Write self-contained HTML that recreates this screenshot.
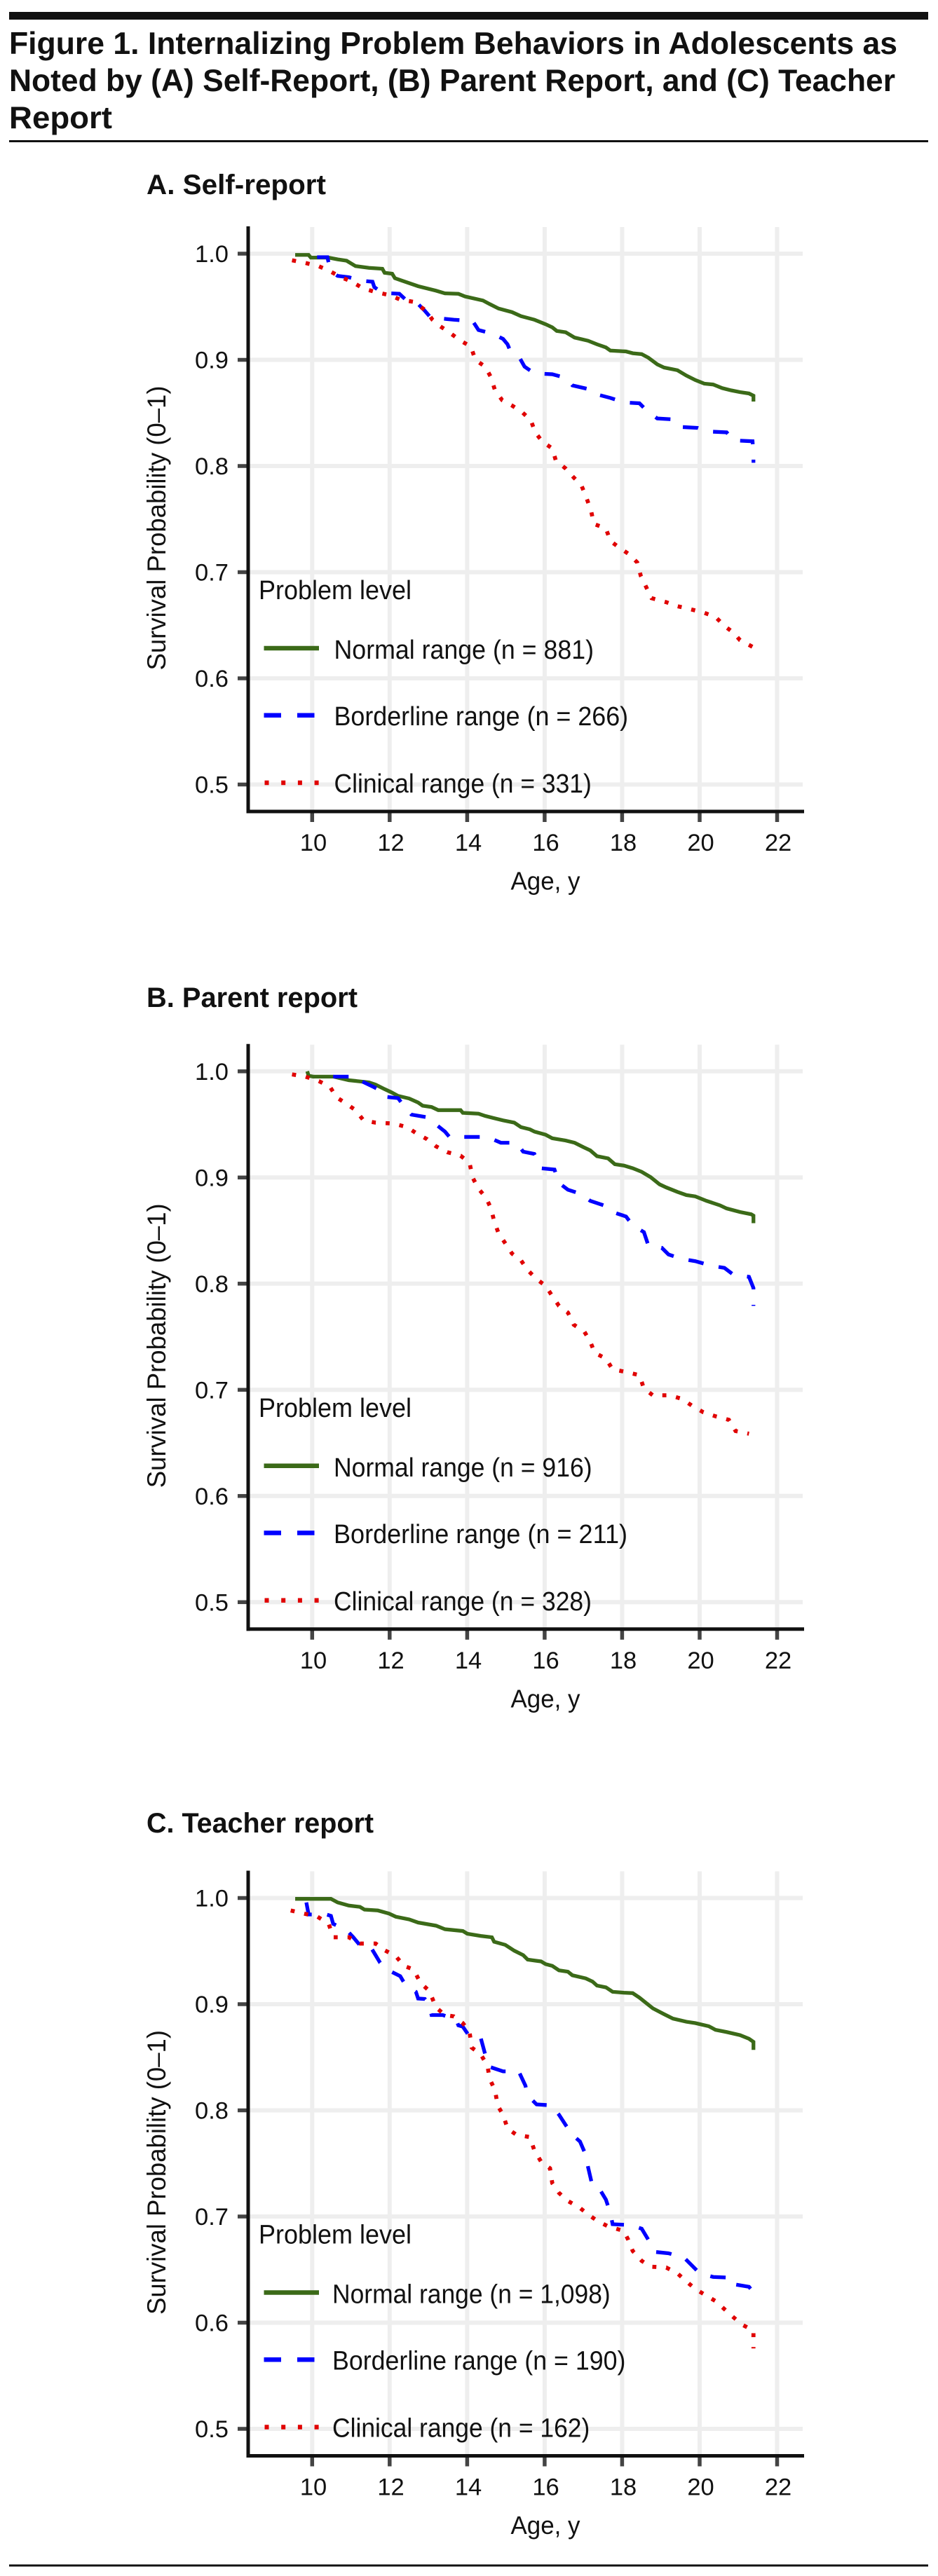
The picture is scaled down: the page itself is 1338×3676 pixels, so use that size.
<!DOCTYPE html>
<html><head><meta charset="utf-8"><style>
html,body{margin:0;padding:0;background:#fff;}
svg{display:block;}
text{font-family:"Liberation Sans",Arial,sans-serif;fill:#111;}
</style></head><body>
<svg width="1338" height="3676" viewBox="0 0 1338 3676" xmlns="http://www.w3.org/2000/svg">
<defs>
<g id="frame">
  <g stroke="#eeeeee" stroke-width="6" fill="none">
    <line x1="354" y1="362" x2="1145" y2="362"/>
    <line x1="354" y1="513.5" x2="1145" y2="513.5"/>
    <line x1="354" y1="665" x2="1145" y2="665"/>
    <line x1="354" y1="816.5" x2="1145" y2="816.5"/>
    <line x1="354" y1="968" x2="1145" y2="968"/>
    <line x1="354" y1="1119.5" x2="1145" y2="1119.5"/>
    <line x1="445.3" y1="324" x2="445.3" y2="1158"/>
    <line x1="555.8" y1="324" x2="555.8" y2="1158"/>
    <line x1="666.4" y1="324" x2="666.4" y2="1158"/>
    <line x1="776.9" y1="324" x2="776.9" y2="1158"/>
    <line x1="887.4" y1="324" x2="887.4" y2="1158"/>
    <line x1="998" y1="324" x2="998" y2="1158"/>
    <line x1="1108.5" y1="324" x2="1108.5" y2="1158"/>
  </g>
</g>
<g id="axes">
  <g stroke="#444" stroke-width="5.5">
    <line x1="339" y1="362" x2="354" y2="362"/>
    <line x1="339" y1="513.5" x2="354" y2="513.5"/>
    <line x1="339" y1="665" x2="354" y2="665"/>
    <line x1="339" y1="816.5" x2="354" y2="816.5"/>
    <line x1="339" y1="968" x2="354" y2="968"/>
    <line x1="339" y1="1119.5" x2="354" y2="1119.5"/>
    <line x1="445.3" y1="1158" x2="445.3" y2="1173"/>
    <line x1="555.8" y1="1158" x2="555.8" y2="1173"/>
    <line x1="666.4" y1="1158" x2="666.4" y2="1173"/>
    <line x1="776.9" y1="1158" x2="776.9" y2="1173"/>
    <line x1="887.4" y1="1158" x2="887.4" y2="1173"/>
    <line x1="998" y1="1158" x2="998" y2="1173"/>
    <line x1="1108.5" y1="1158" x2="1108.5" y2="1173"/>
  </g>
  <line x1="354" y1="323" x2="354" y2="1160.5" stroke="#111" stroke-width="5"/>
  <line x1="351.5" y1="1158" x2="1147" y2="1158" stroke="#111" stroke-width="5"/>
  <g font-size="34.5" text-anchor="end">
    <text x="326" y="374">1.0</text>
    <text x="326" y="525.5">0.9</text>
    <text x="326" y="677">0.8</text>
    <text x="326" y="828.5">0.7</text>
    <text x="326" y="980">0.6</text>
    <text x="326" y="1131.5">0.5</text>
  </g>
  <g font-size="34.5" text-anchor="middle">
    <text x="447" y="1214">10</text>
    <text x="557.5" y="1214">12</text>
    <text x="668" y="1214">14</text>
    <text x="778.5" y="1214">16</text>
    <text x="889" y="1214">18</text>
    <text x="999.5" y="1214">20</text>
    <text x="1110" y="1214">22</text>
  </g>
  <text x="778" y="1269.5" font-size="36" text-anchor="middle" textLength="99" lengthAdjust="spacingAndGlyphs">Age, y</text>
  <text transform="translate(236,753.5) rotate(-90)" font-size="37" text-anchor="middle" textLength="406" lengthAdjust="spacingAndGlyphs">Survival Probability (0–1)</text>
  <text x="369" y="855" font-size="38" textLength="218" lengthAdjust="spacingAndGlyphs">Problem level</text>
  <line x1="376.5" y1="925" x2="455" y2="925" stroke="#3b6a18" stroke-width="6.5"/>
  <line x1="376.5" y1="1020.7" x2="455" y2="1020.7" stroke="#0000ff" stroke-width="6.5" stroke-dasharray="24.5 23"/>
  <line x1="377.5" y1="1117" x2="455" y2="1117" stroke="#e00000" stroke-width="6.5" stroke-dasharray="6 17.7"/>
</g>
</defs>

<!-- Header -->
<rect x="13" y="17" width="1311" height="11" fill="#111"/>
<g font-size="44.5" font-weight="bold">
  <text x="13" y="77" textLength="1267" lengthAdjust="spacingAndGlyphs">Figure 1. Internalizing Problem Behaviors in Adolescents as</text>
  <text x="13" y="130" textLength="1264" lengthAdjust="spacingAndGlyphs">Noted by (A) Self-Report, (B) Parent Report, and (C) Teacher</text>
  <text x="13" y="183" textLength="147" lengthAdjust="spacingAndGlyphs">Report</text>
</g>
<rect x="13" y="200" width="1311" height="3" fill="#111"/>

<!-- Panel A -->
<text x="209" y="277" font-size="40" font-weight="bold" textLength="256" lengthAdjust="spacingAndGlyphs">A. Self-report</text>
<use href="#frame"/>
<g transform="translate(150,300) scale(0.63776)" fill="none" stroke-linejoin="miter">
  <path stroke="#3b6a18" stroke-width="8.3" d="M425,100 L455,100 L460,106 L500,106 L520,110 L540,113 L560,125 L590,129 L620,131 L625,140 L642,142 L648,152 L665,158 L700,170 L740,180 L760,186 L790,187 L805,193 L845,202 L860,210 L880,220 L910,228 L930,237 L960,245 L985,255 L1000,262 L1010,270 L1030,273 L1050,285 L1080,292 L1100,300 L1120,307 L1130,314 L1165,316 L1180,320 L1200,322 L1215,330 L1235,345 L1250,352 L1280,358 L1300,370 L1320,380 L1340,388 L1360,390 L1380,398 L1400,403 L1420,407 L1440,410 L1450,415 L1450,428"/>
  <path stroke="#0000ff" stroke-width="8.3" stroke-dasharray="34.5 34.5" d="M474,105 L497,105 L500,118 L510,140 L520,147 L545,150 L575,158 L598,160 L602,172 L620,185 L658,187 L672,200 L700,210 L715,225 L728,240 L780,245 L822,248 L835,268 L866,276 L890,288 L900,300 L905,312 L928,332 L938,350 L960,365 L1000,367 L1030,375 L1045,392 L1080,400 L1092,410 L1130,420 L1160,430 L1195,432 L1210,447 L1235,466 L1270,468 L1288,485 L1325,487 L1348,495 L1390,497 L1405,515 L1448,517 L1450,545 L1450,565"/>
  <path stroke="#e00000" stroke-width="9" stroke-dasharray="9 22" d="M418,112 L448,118 L477,125 L500,135 L528,150 L552,160 L577,175 L605,183 L636,190 L660,200 L690,205 L718,225 L732,245 L750,260 L772,275 L795,292 L818,305 L828,335 L850,350 L862,372 L872,403 L888,425 L910,437 L933,452 L952,470 L962,497 L978,518 L1000,533 L1008,560 L1030,578 L1048,598 L1065,615 L1077,645 L1087,673 L1093,702 L1120,712 L1130,740 L1150,755 L1172,770 L1190,788 L1198,818 L1210,843 L1222,868 L1255,877 L1280,886 L1310,893 L1338,900 L1365,910 L1385,930 L1405,945 L1420,962 L1450,978"/>
</g>
<use href="#axes"/>
<g font-size="38">
  <text x="476.5" y="940" textLength="370.5" lengthAdjust="spacingAndGlyphs">Normal range (n = 881)</text>
  <text x="476.5" y="1035" textLength="419.6" lengthAdjust="spacingAndGlyphs">Borderline range (n = 266)</text>
  <text x="476.5" y="1131" textLength="367.3" lengthAdjust="spacingAndGlyphs">Clinical range (n = 331)</text>
</g>

<!-- Panel B -->
<text x="209" y="1437" font-size="40" font-weight="bold" textLength="301" lengthAdjust="spacingAndGlyphs">B. Parent report</text>
<use href="#frame" transform="translate(0,1166.8)"/>
<g transform="translate(150,1500) scale(0.63776)" fill="none" stroke-linejoin="miter">
  <path stroke="#3b6a18" stroke-width="8.3" d="M452,45 L455,55 L465,57 L510,57 L545,65 L590,70 L605,75 L625,85 L640,92 L655,100 L680,106 L700,115 L710,122 L730,125 L745,132 L795,132 L800,138 L835,140 L850,145 L870,150 L890,155 L915,160 L930,170 L950,175 L960,180 L985,187 L1000,195 L1030,200 L1050,205 L1070,215 L1085,222 L1100,235 L1125,240 L1140,253 L1160,256 L1180,262 L1200,270 L1220,282 L1240,298 L1255,305 L1280,315 L1300,322 L1320,325 L1345,335 L1375,345 L1390,352 L1420,360 L1445,365 L1450,368 L1450,385"/>
  <path stroke="#0000ff" stroke-width="8.3" stroke-dasharray="34.5 34.5" d="M510,57 L545,57 L548,62 L575,68 L600,80 L620,90 L625,102 L655,105 L670,125 L685,142 L720,148 L735,160 L760,180 L770,192 L855,192 L885,205 L920,205 L935,225 L960,230 L975,262 L1005,265 L1015,295 L1035,310 L1065,320 L1085,335 L1115,345 L1135,360 L1165,370 L1180,390 L1205,405 L1215,435 L1245,440 L1260,455 L1290,465 L1320,470 L1355,480 L1385,485 L1405,500 L1440,505 L1450,530 L1450,570"/>
  <path stroke="#e00000" stroke-width="9" stroke-dasharray="9 22" d="M418,52 L448,57 L478,67 L503,80 L517,103 L540,118 L560,132 L578,155 L605,160 L645,162 L675,170 L698,185 L720,197 L740,213 L765,226 L795,234 L815,250 L822,283 L835,308 L852,328 L863,352 L870,380 L880,408 L895,430 L910,453 L930,468 L945,490 L965,510 L985,525 L1000,548 L1015,570 L1035,585 L1048,612 L1072,628 L1085,650 L1095,675 L1120,688 L1135,712 L1165,718 L1195,725 L1205,755 L1225,770 L1262,770 L1290,778 L1312,793 L1338,808 L1365,817 L1395,825 L1410,850 L1440,856"/>
</g>
<use href="#axes" transform="translate(0,1166.8)"/>
<g font-size="38" transform="translate(0,1166.8)">
  <text x="476" y="940" textLength="368.6" lengthAdjust="spacingAndGlyphs">Normal range (n = 916)</text>
  <text x="476" y="1035" textLength="419" lengthAdjust="spacingAndGlyphs">Borderline range (n = 211)</text>
  <text x="476" y="1131" textLength="368" lengthAdjust="spacingAndGlyphs">Clinical range (n = 328)</text>
</g>

<!-- Panel C -->
<text x="209" y="2615" font-size="40" font-weight="bold" textLength="324" lengthAdjust="spacingAndGlyphs">C. Teacher report</text>
<use href="#frame" transform="translate(0,2346.5)"/>
<g transform="translate(150,2600) scale(0.63776)" fill="none" stroke-linejoin="miter">
  <path stroke="#3b6a18" stroke-width="8.3" d="M425,172 L505,172 L520,180 L545,187 L570,190 L580,196 L610,198 L635,205 L650,212 L680,218 L700,225 L740,232 L760,240 L800,244 L810,250 L840,255 L865,258 L870,268 L895,275 L915,288 L935,298 L945,308 L975,312 L985,318 L1000,322 L1015,332 L1035,335 L1045,343 L1075,350 L1090,357 L1100,366 L1120,370 L1135,380 L1160,382 L1180,383 L1195,393 L1210,405 L1225,417 L1250,430 L1270,440 L1300,447 L1320,450 L1350,457 L1365,465 L1390,470 L1420,477 L1440,485 L1450,492 L1450,510"/>
  <path stroke="#0000ff" stroke-width="8.3" stroke-dasharray="34.5 34.5" d="M450,180 L455,207 L495,207 L505,210 L510,228 L540,242 L555,258 L575,282 L595,282 L600,290 L615,315 L630,330 L660,345 L670,362 L695,380 L700,395 L715,396 L725,410 L730,432 L755,432 L785,442 L790,455 L800,458 L815,480 L840,483 L850,520 L860,548 L890,558 L925,558 L940,590 L945,612 L965,632 L998,634 L1015,655 L1030,678 L1045,700 L1062,715 L1075,745 L1080,772 L1090,815 L1108,825 L1120,845 L1130,875 L1135,900 L1175,902 L1200,910 L1215,935 L1230,962 L1260,965 L1295,975 L1310,990 L1330,1010 L1360,1018 L1405,1020 L1410,1035 L1440,1040 L1450,1052"/>
  <path stroke="#e00000" stroke-width="9" stroke-dasharray="9 22" d="M415,198 L445,205 L475,212 L500,228 L510,258 L545,258 L570,272 L605,272 L625,287 L650,300 L668,322 L690,330 L705,360 L725,378 L740,415 L760,432 L780,435 L800,450 L815,470 L820,505 L840,520 L855,545 L860,575 L872,600 L878,635 L890,655 L900,686 L920,700 L950,705 L960,735 L975,760 L995,775 L1000,808 L1015,830 L1035,848 L1060,862 L1080,878 L1100,892 L1125,905 L1160,915 L1170,935 L1180,960 L1200,982 L1220,995 L1255,997 L1280,1010 L1300,1028 L1320,1045 L1345,1060 L1365,1072 L1385,1090 L1405,1108 L1425,1125 L1450,1138 L1450,1178"/>
</g>
<use href="#axes" transform="translate(0,2346.5)"/>
<g font-size="38" transform="translate(0,2346.5)">
  <text x="474" y="940" textLength="396.7" lengthAdjust="spacingAndGlyphs">Normal range (n = 1,098)</text>
  <text x="474" y="1035" textLength="418.4" lengthAdjust="spacingAndGlyphs">Borderline range (n = 190)</text>
  <text x="474" y="1131" textLength="367.3" lengthAdjust="spacingAndGlyphs">Clinical range (n = 162)</text>
</g>

<!-- Bottom rule -->
<rect x="13" y="3659.5" width="1311" height="3" fill="#111"/>
</svg>
</body></html>
